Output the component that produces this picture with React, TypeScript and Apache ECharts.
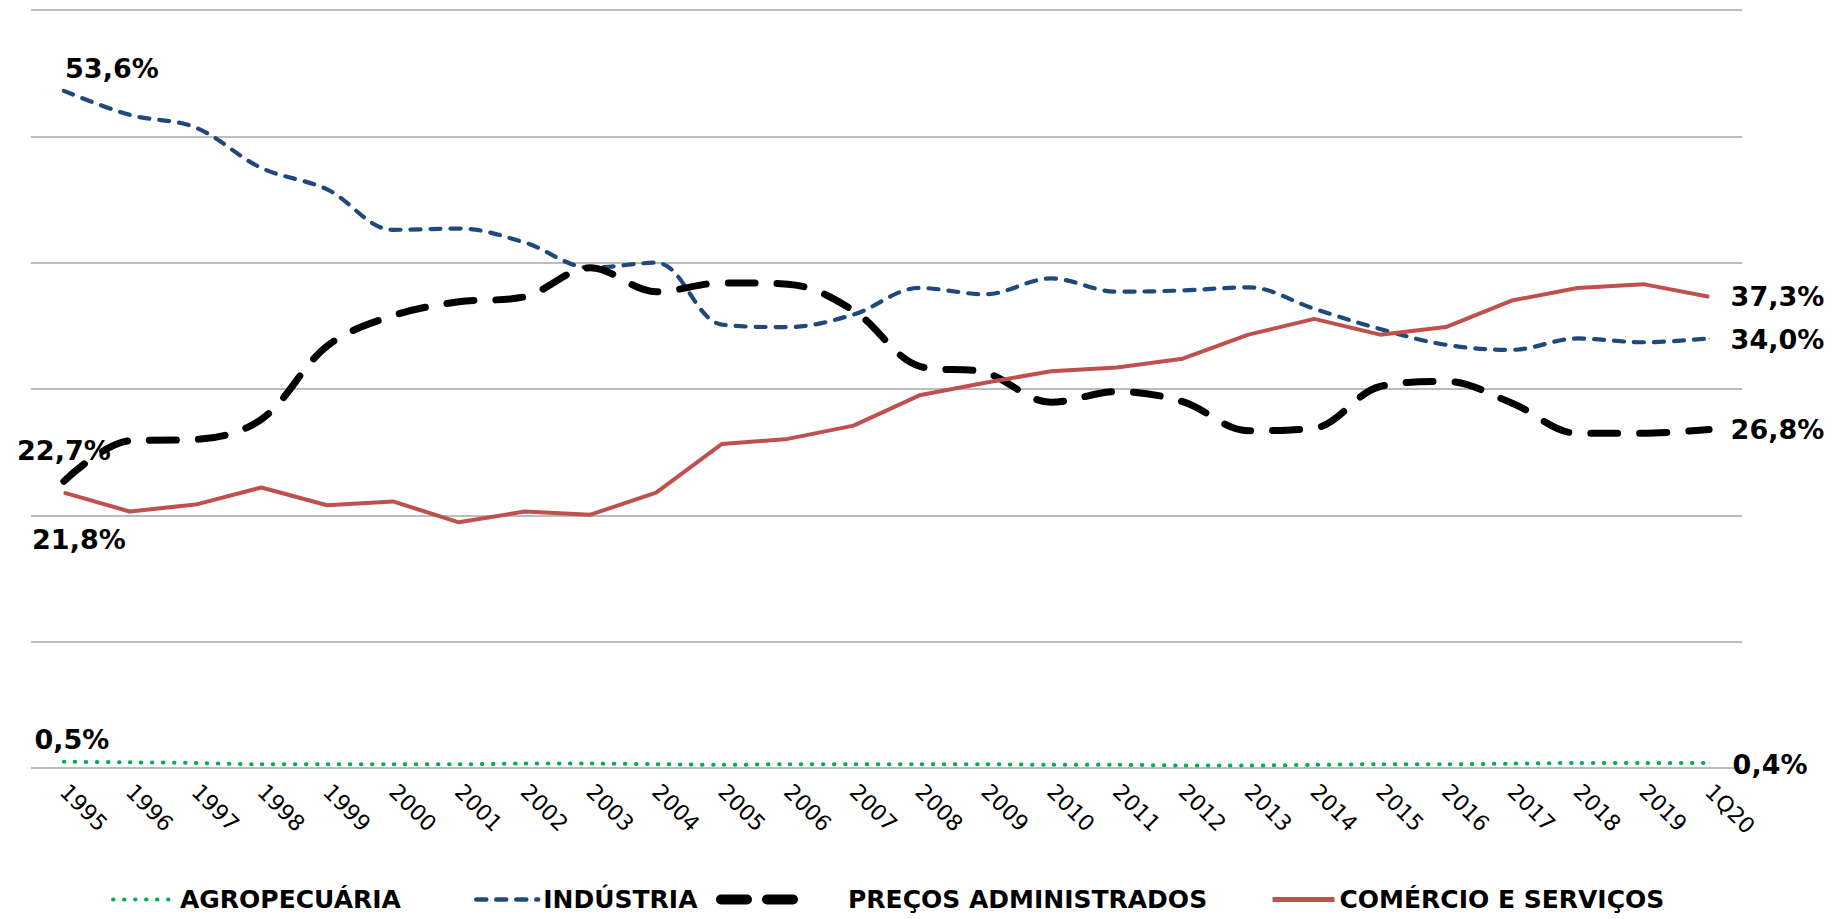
import React, { useEffect, useRef } from "react";
import * as echarts from "echarts";

const categories = [
  "1995", "1996", "1997", "1998", "1999", "2000", "2001", "2002", "2003", "2004",
  "2005", "2006", "2007", "2008", "2009", "2010", "2011", "2012", "2013", "2014",
  "2015", "2016", "2017", "2018", "2019", "1Q20",
];

const agropecuaria = [
  0.5, 0.45, 0.4, 0.3, 0.3, 0.3, 0.3, 0.35, 0.35, 0.3,
  0.25, 0.3, 0.3, 0.3, 0.3, 0.25, 0.25, 0.2, 0.2, 0.25,
  0.3, 0.3, 0.35, 0.4, 0.4, 0.4,
];

const industria = [
  53.6, 51.7, 50.7, 47.5, 45.8, 42.6, 42.7, 41.6, 39.6, 40.0,
  35.1, 34.9, 35.9, 38.0, 37.5, 38.75, 37.7, 37.8, 38.05, 36.35,
  34.75, 33.5, 33.1, 34.0, 33.7, 34.0,
];

const precosAdministrados = [
  22.7, 25.9, 26.0, 27.6, 33.4, 35.8, 36.9, 37.3, 39.6, 37.7,
  38.4, 38.3, 36.2, 31.8, 31.3, 28.95, 29.8, 29.0, 26.7, 26.9,
  30.2, 30.6, 28.9, 26.5, 26.5, 26.8,
];

const comercioServicos = [
  21.8, 20.3, 20.85, 22.2, 20.8, 21.1, 19.45, 20.3, 20.05, 21.8,
  25.65, 26.05, 27.1, 29.5, 30.5, 31.4, 31.7, 32.4, 34.3, 35.55,
  34.3, 34.9, 37.0, 38.0, 38.3, 37.3,
];

const yTicks = { min: 0, max: 60, interval: 10 };

const LABEL_FONT = "'DejaVu Sans', Verdana, sans-serif";

const fmt = (v: number) => v.toFixed(1).replace(".", ",") + "%";

type LabelSpec = { position: string; offset: number[] };

function buildData(values: number[], color: string, first: LabelSpec, last: LabelSpec) {
  return values.map((v, i) => {
    const spec = i === 0 ? first : i === values.length - 1 ? last : null;
    if (!spec) return v;
    return {
      value: v,
      symbol: "circle",
      symbolSize: 1,
      itemStyle: { color },
      label: {
        show: true,
        position: spec.position,
        offset: spec.offset,
        formatter: () => fmt(v),
        fontFamily: LABEL_FONT,
        fontWeight: "bold",
        fontSize: 27,
        color: "#000",
      },
    };
  });
}

export default function App() {
  const ref = useRef<HTMLDivElement>(null);

  useEffect(() => {
    document.body.style.margin = "0";
    if (!ref.current) return;
    const chart = echarts.init(ref.current, null, { renderer: "svg" });

    const green = "#00B050";
    const blue = "#1F497D";
    const black = "#000000";
    const red = "#C0504D";

    const names = ["AGROPECUÁRIA", "INDÚSTRIA", "PREÇOS ADMINISTRADOS", "COMÉRCIO E SERVIÇOS"];

    const styles = [
      { color: green, width: 4, type: [0.5, 10.5], cap: "round" },
      { color: blue, width: 4.2, type: [10, 10], cap: "round" },
      { color: black, width: 7, type: [27, 22], cap: "round" },
      { color: red, width: 4, type: "solid", cap: "butt" },
    ];

    const legendLefts = [111, 474, 716, 1270];
    const legendWidths = [62, 62, 92, 62];
    const legendPad = [0, 0, 30, 0];
    const legendStyles = [
      { color: green, width: 4, type: [0.5, 10.5], cap: "round" },
      { color: blue, width: 4.5, type: [10, 10], cap: "round" },
      { color: black, width: 10, type: [26, 20], cap: "round" },
      { color: red, width: 5, type: "solid", cap: "butt" },
    ];

    const legendTextStyle = {
      fontFamily: LABEL_FONT,
      fontWeight: "bold",
      fontSize: 25,
      color: "#000",
    };

    chart.setOption({
      animation: false,
      backgroundColor: "#fff",
      grid: { left: 31, right: 93, top: 10, bottom: 151, containLabel: false },
      legend: names.map((n, i) => ({
        data: [n],
        left: legendLefts[i],
        top: 887,
        itemWidth: legendWidths[i],
        itemHeight: 14,
        padding: 0,
        itemStyle: { opacity: 0, borderWidth: 0 },
        lineStyle: legendStyles[i],
        textStyle: { ...legendTextStyle, padding: [0, 0, 0, legendPad[i]] },
        selectedMode: false,
      })),
      xAxis: {
        type: "category",
        data: categories,
        boundaryGap: true,
        axisLine: { show: false },
        axisTick: { show: false },
        axisLabel: {
          rotate: -45,
          interval: 0,
          margin: 20,
          fontFamily: LABEL_FONT,
          fontSize: 22,
          color: "#000",
        },
        splitLine: { show: false },
      },
      yAxis: {
        type: "value",
        min: yTicks.min,
        max: yTicks.max,
        interval: yTicks.interval,
        axisLine: { show: false },
        axisTick: { show: false },
        axisLabel: { show: false },
        splitLine: { show: true, lineStyle: { color: "#A6A6A6", width: 1.5 } },
      },
      series: [
        {
          name: names[0],
          type: "line",
          symbol: "none",
          smooth: 0.3,
          color: green,
          lineStyle: styles[0],
          data: buildData(agropecuaria, green,
            { position: "top", offset: [8, -3] },
            { position: "right", offset: [18, 2] }),
          z: 2,
        },
        {
          name: names[1],
          type: "line",
          symbol: "none",
          smooth: 0.35,
          color: blue,
          lineStyle: styles[1],
          data: buildData(industria, blue,
            { position: "top", offset: [48, -3] },
            { position: "right", offset: [16, 1] }),
          z: 3,
        },
        {
          name: names[2],
          type: "line",
          symbol: "none",
          smooth: 0.35,
          color: black,
          lineStyle: styles[2],
          data: buildData(precosAdministrados, black,
            { position: "top", offset: [0, -12] },
            { position: "right", offset: [16, 0] }),
          z: 4,
        },
        {
          name: names[3],
          type: "line",
          symbol: "none",
          smooth: false,
          color: red,
          lineStyle: styles[3],
          data: buildData(comercioServicos, red,
            { position: "bottom", offset: [15, 28] },
            { position: "right", offset: [16, 0] }),
          z: 5,
        },
      ],
    });

    return () => chart.dispose();
  }, []);

  return <div ref={ref} style={{ width: 1835, height: 919 }} />;
}
